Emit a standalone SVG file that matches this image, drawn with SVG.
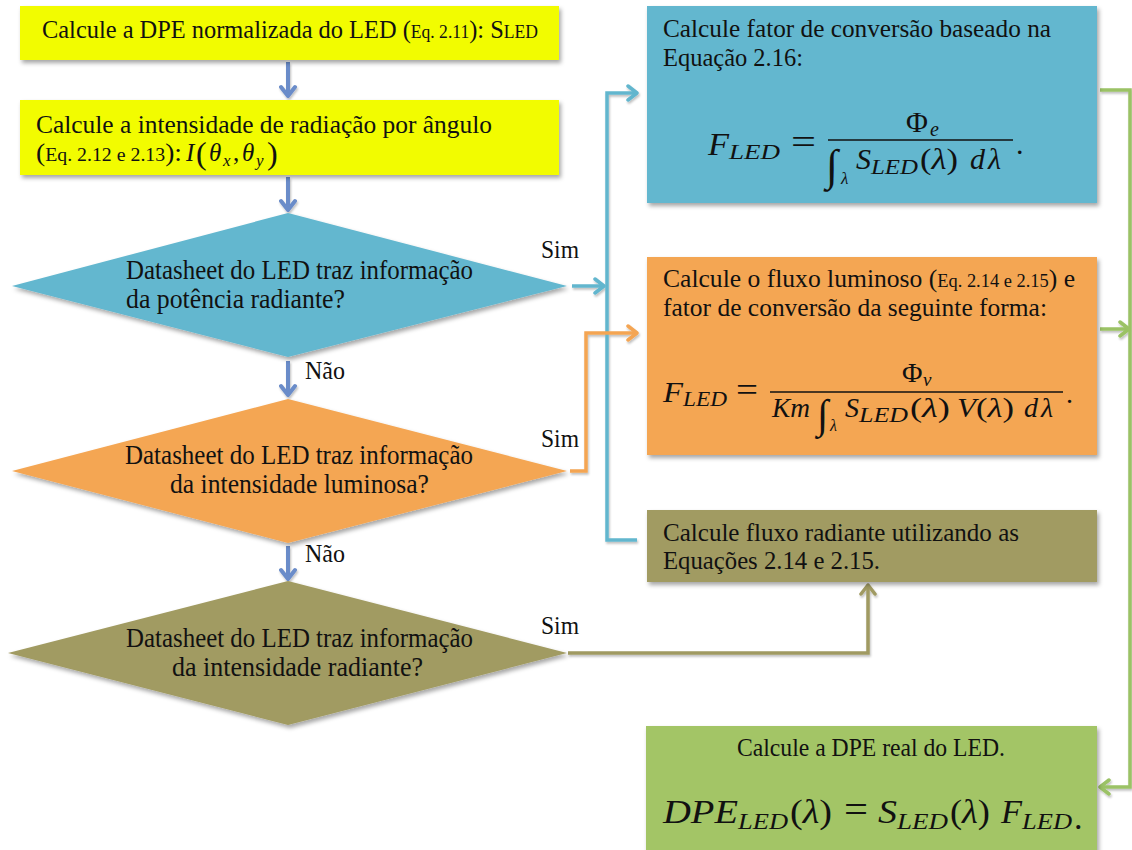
<svg xmlns="http://www.w3.org/2000/svg" width="1132" height="850" viewBox="0 0 1132 850">
  <defs>
    <filter id="shadow" x="-5%" y="-5%" width="115%" height="125%">
      <feDropShadow dx="2" dy="3" stdDeviation="2" flood-color="#000" flood-opacity="0.35"/>
    </filter>
    <filter id="lineShadow" x="-10%" y="-10%" width="130%" height="130%">
      <feDropShadow dx="1" dy="2" stdDeviation="1" flood-color="#000" flood-opacity="0.25"/>
    </filter>
    <marker id="arrSteel" markerUnits="userSpaceOnUse" markerWidth="16" markerHeight="18" refX="12" refY="9" orient="auto">
      <path d="M3,2 L12,9 L3,16" fill="none" stroke="#6A8CC9" stroke-width="4" stroke-linecap="round" stroke-linejoin="round"/>
    </marker>
    <marker id="arrBlue" markerUnits="userSpaceOnUse" markerWidth="16" markerHeight="18" refX="12" refY="9" orient="auto">
      <path d="M3,2 L12,9 L3,16" fill="none" stroke="#62B6CE" stroke-width="3.5" stroke-linecap="round" stroke-linejoin="round"/>
    </marker>
    <marker id="arrOrange" markerUnits="userSpaceOnUse" markerWidth="16" markerHeight="18" refX="12" refY="9" orient="auto">
      <path d="M3,2 L12,9 L3,16" fill="none" stroke="#F4A553" stroke-width="3.5" stroke-linecap="round" stroke-linejoin="round"/>
    </marker>
    <marker id="arrOlive" markerUnits="userSpaceOnUse" markerWidth="16" markerHeight="18" refX="12" refY="9" orient="auto">
      <path d="M3,2 L12,9 L3,16" fill="none" stroke="#A09A62" stroke-width="3.5" stroke-linecap="round" stroke-linejoin="round"/>
    </marker>
    <marker id="arrGreen" markerUnits="userSpaceOnUse" markerWidth="16" markerHeight="18" refX="12" refY="9" orient="auto">
      <path d="M3,2 L12,9 L3,16" fill="none" stroke="#9BC265" stroke-width="3.5" stroke-linecap="round" stroke-linejoin="round"/>
    </marker>
  </defs>
  <style>
    .t { font-family: "Liberation Serif", "DejaVu Serif", serif; fill: #111; }
    .box { font-size: 25px; }
    .dia { font-size: 28px; }
    .lbl { font-size: 25px; }
    .sm { font-size: 18px; }
    .m { font-family: "Liberation Serif", "DejaVu Serif", serif; fill: #111; }
    .mi { font-style: italic; }
    .yellow { fill: #F2FC00; }
    .blue { fill: #63B7CF; }
    .orange { fill: #F4A653; }
    .olive { fill: #A19B62; }
    .green { fill: #A3C566; }
    .conn { fill: none; stroke-width: 3.5; stroke-linejoin: miter; }
  </style>

  <rect width="1132" height="850" fill="#ffffff"/>

  <!-- connectors -->
  <g id="connectors" filter="url(#lineShadow)">
    <line x1="288" y1="62" x2="288" y2="96" stroke="#6A8CC9" stroke-width="4" marker-end="url(#arrSteel)"/>
    <line x1="288" y1="177" x2="288" y2="210" stroke="#6A8CC9" stroke-width="4" marker-end="url(#arrSteel)"/>
    <line x1="288" y1="361" x2="288" y2="395" stroke="#6A8CC9" stroke-width="4" marker-end="url(#arrSteel)"/>
    <line x1="288" y1="546" x2="288" y2="579" stroke="#6A8CC9" stroke-width="4" marker-end="url(#arrSteel)"/>

    <line x1="572" y1="286" x2="604" y2="286" class="conn" stroke="#62B6CE" marker-end="url(#arrBlue)"/>
    <path d="M637,540 L607,540 L607,93 L637,93" class="conn" stroke="#62B6CE" marker-end="url(#arrBlue)"/>

    <path d="M570,471 L586,471 L586,333 L637,333" class="conn" stroke="#F4A553" marker-end="url(#arrOrange)"/>

    <path d="M568,653 L868,653 L868,585" class="conn" stroke="#A09A62" marker-end="url(#arrOlive)"/>

    <path d="M1100,90 L1130,90 L1130,787 L1100,787" class="conn" stroke="#9BC265" marker-end="url(#arrGreen)"/>
    <line x1="1100" y1="329" x2="1129" y2="329" class="conn" stroke="#9BC265" marker-end="url(#arrGreen)"/>
  </g>

  <!-- edge labels -->
  <g id="labels" class="t lbl">
    <text x="541" y="258" textLength="38" lengthAdjust="spacingAndGlyphs">Sim</text>
    <text x="541" y="447" textLength="38" lengthAdjust="spacingAndGlyphs">Sim</text>
    <text x="541" y="634" textLength="38" lengthAdjust="spacingAndGlyphs">Sim</text>
    <text x="305" y="379" textLength="40" lengthAdjust="spacingAndGlyphs">Não</text>
    <text x="305" y="562" textLength="40" lengthAdjust="spacingAndGlyphs">Não</text>
  </g>

  <!-- step: normalized spectral density -->
  <g id="n-spd">
    <rect x="20" y="6" width="539" height="54" class="yellow" filter="url(#shadow)"/>
    <text class="t box" x="42" y="38" textLength="496" lengthAdjust="spacingAndGlyphs">Calcule a DPE normalizada do LED (<tspan class="sm">Eq. 2.11</tspan>): S<tspan class="sm">LED</tspan></text>
  </g>

  <!-- step: radiant intensity per angle -->
  <g id="n-intensity">
    <rect x="20" y="100" width="539" height="75" class="yellow" filter="url(#shadow)"/>
    <text class="t box" x="36" y="133" textLength="456" lengthAdjust="spacingAndGlyphs">Calcule a intensidade de radiação por ângulo</text>
    <text class="t box" x="36" y="161" textLength="146" lengthAdjust="spacingAndGlyphs">(<tspan class="sm">Eq. 2.12 e 2.13</tspan>):</text>
    <text class="m mi" x="186" y="161" font-size="25">I</text>
    <text class="m" x="196" y="164" font-size="32">(</text>
    <text class="m mi" x="209" y="161" font-size="25">θ</text>
    <text class="m mi" x="223" y="166" font-size="17">x</text>
    <text class="m" x="233" y="161" font-size="25">,</text>
    <text class="m mi" x="242" y="161" font-size="25">θ</text>
    <text class="m mi" x="256" y="166" font-size="17">y</text>
    <text class="m" x="267" y="164" font-size="32">)</text>
  </g>

  <!-- decision: radiant power -->
  <g id="d-power">
    <polygon points="288,213 567,286 288,357 12,286" class="blue" filter="url(#shadow)"/>
    <text class="t dia" x="126" y="279" textLength="347" lengthAdjust="spacingAndGlyphs">Datasheet do LED traz informação</text>
    <text class="t dia" x="126" y="308" textLength="219" lengthAdjust="spacingAndGlyphs">da potência radiante?</text>
  </g>

  <!-- decision: luminous intensity -->
  <g id="d-luminous">
    <polygon points="288,399 567,471 288,543 12,471" class="orange" filter="url(#shadow)"/>
    <text class="t dia" x="125" y="464" textLength="348" lengthAdjust="spacingAndGlyphs">Datasheet do LED traz informação</text>
    <text class="t dia" x="170" y="493" textLength="259" lengthAdjust="spacingAndGlyphs">da intensidade luminosa?</text>
  </g>

  <!-- decision: radiant intensity -->
  <g id="d-radiant">
    <polygon points="288,581 567,653 288,725 8,653" class="olive" filter="url(#shadow)"/>
    <text class="t dia" x="126" y="647" textLength="347" lengthAdjust="spacingAndGlyphs">Datasheet do LED traz informação</text>
    <text class="t dia" x="172" y="676" textLength="251" lengthAdjust="spacingAndGlyphs">da intensidade radiante?</text>
  </g>

  <!-- conversion factor from radiant power -->
  <g id="n-factor-power">
    <rect x="647" y="6" width="450" height="197" class="blue" filter="url(#shadow)"/>
    <text class="t box" x="663" y="37" textLength="388" lengthAdjust="spacingAndGlyphs">Calcule fator de conversão baseado na</text>
    <text class="t box" x="663" y="66" textLength="140" lengthAdjust="spacingAndGlyphs">Equação 2.16:</text>
    <text class="m mi" x="708" y="155" font-size="32" textLength="21" lengthAdjust="spacingAndGlyphs">F</text>
    <text class="m mi" x="729" y="159" font-size="22" textLength="51" lengthAdjust="spacingAndGlyphs">LED</text>
    <text class="m" x="791" y="154" font-size="36" textLength="25" lengthAdjust="spacingAndGlyphs">=</text>
    <line x1="828" y1="140" x2="1013" y2="140" stroke="#111" stroke-width="1.4"/>
    <text class="m" x="906" y="132" font-size="30">Φ</text>
    <text class="m mi" x="930" y="136" font-size="20">e</text>
    <text class="m" x="826" y="180" font-size="44">∫</text>
    <text class="m mi" x="841" y="184" font-size="17">λ</text>
    <text class="m mi" x="856" y="169" font-size="30" textLength="15" lengthAdjust="spacingAndGlyphs">S</text>
    <text class="m mi" x="871" y="174" font-size="21" textLength="47" lengthAdjust="spacingAndGlyphs">LED</text>
    <text class="m" x="920" y="169" font-size="30" textLength="38" lengthAdjust="spacingAndGlyphs">(<tspan class="mi">λ</tspan>)</text>
    <text class="m mi" x="970" y="169" font-size="30" letter-spacing="3">dλ</text>
    <text class="m" x="1016" y="154" font-size="30">.</text>
  </g>

  <!-- luminous flux and conversion factor -->
  <g id="n-factor-luminous">
    <rect x="647" y="257" width="450" height="198" class="orange" filter="url(#shadow)"/>
    <text class="t box" x="663" y="287" textLength="412" lengthAdjust="spacingAndGlyphs">Calcule o fluxo luminoso (<tspan class="sm">Eq. 2.14 e 2.15</tspan>) e</text>
    <text class="t box" x="663" y="316" textLength="384" lengthAdjust="spacingAndGlyphs">fator de conversão da seguinte forma:</text>
    <text class="m mi" x="663" y="402" font-size="30" textLength="20" lengthAdjust="spacingAndGlyphs">F</text>
    <text class="m mi" x="683" y="406" font-size="21" textLength="44" lengthAdjust="spacingAndGlyphs">LED</text>
    <text class="m" x="736" y="401" font-size="33" textLength="22" lengthAdjust="spacingAndGlyphs">=</text>
    <line x1="770" y1="392" x2="1063" y2="392" stroke="#111" stroke-width="1.4"/>
    <text class="m" x="902" y="382" font-size="28">Φ</text>
    <text class="m mi" x="923" y="386" font-size="19">v</text>
    <text class="m mi" x="772" y="417" font-size="28" textLength="38" lengthAdjust="spacingAndGlyphs">Km</text>
    <text class="m" x="817" y="428" font-size="41">∫</text>
    <text class="m mi" x="830" y="431" font-size="16">λ</text>
    <text class="m mi" x="845" y="417" font-size="28" textLength="14" lengthAdjust="spacingAndGlyphs">S</text>
    <text class="m mi" x="859" y="422" font-size="20" textLength="49" lengthAdjust="spacingAndGlyphs">LED</text>
    <text class="m" x="910" y="417" font-size="28" textLength="40" lengthAdjust="spacingAndGlyphs">(<tspan class="mi">λ</tspan>)</text>
    <text class="m mi" x="957" y="417" font-size="28" textLength="19" lengthAdjust="spacingAndGlyphs">V</text>
    <text class="m" x="976" y="417" font-size="28" textLength="38" lengthAdjust="spacingAndGlyphs">(<tspan class="mi">λ</tspan>)</text>
    <text class="m mi" x="1024" y="417" font-size="28" letter-spacing="3">dλ</text>
    <text class="m" x="1066" y="403" font-size="28">.</text>
  </g>

  <!-- radiant flux -->
  <g id="n-radiant-flux">
    <rect x="647" y="510" width="450" height="72" class="olive" filter="url(#shadow)"/>
    <text class="t box" x="663" y="541" textLength="356" lengthAdjust="spacingAndGlyphs">Calcule fluxo radiante utilizando as</text>
    <text class="t box" x="663" y="569" textLength="217" lengthAdjust="spacingAndGlyphs">Equações 2.14 e 2.15.</text>
  </g>

  <!-- real spectral density -->
  <g id="n-real-spd">
    <rect x="646" y="726" width="451" height="130" class="green" filter="url(#shadow)"/>
    <text class="t box" x="737" y="756" textLength="268" lengthAdjust="spacingAndGlyphs">Calcule a DPE real do LED.</text>
    <text class="m mi" x="663" y="823" font-size="34" textLength="75" lengthAdjust="spacingAndGlyphs">DPE</text>
    <text class="m mi" x="738" y="829" font-size="24" textLength="50" lengthAdjust="spacingAndGlyphs">LED</text>
    <text class="m" x="790" y="823" font-size="34" textLength="42" lengthAdjust="spacingAndGlyphs">(<tspan class="mi">λ</tspan>)</text>
    <text class="m" x="844" y="822" font-size="38" textLength="24" lengthAdjust="spacingAndGlyphs">=</text>
    <text class="m mi" x="878" y="823" font-size="34" textLength="19" lengthAdjust="spacingAndGlyphs">S</text>
    <text class="m mi" x="897" y="829" font-size="24" textLength="51" lengthAdjust="spacingAndGlyphs">LED</text>
    <text class="m" x="950" y="823" font-size="34" textLength="40" lengthAdjust="spacingAndGlyphs">(<tspan class="mi">λ</tspan>)</text>
    <text class="m mi" x="1001" y="823" font-size="34" textLength="21" lengthAdjust="spacingAndGlyphs">F</text>
    <text class="m mi" x="1022" y="829" font-size="24" textLength="50" lengthAdjust="spacingAndGlyphs">LED</text>
    <text class="m" x="1074" y="829" font-size="34">.</text>
  </g>
</svg>
